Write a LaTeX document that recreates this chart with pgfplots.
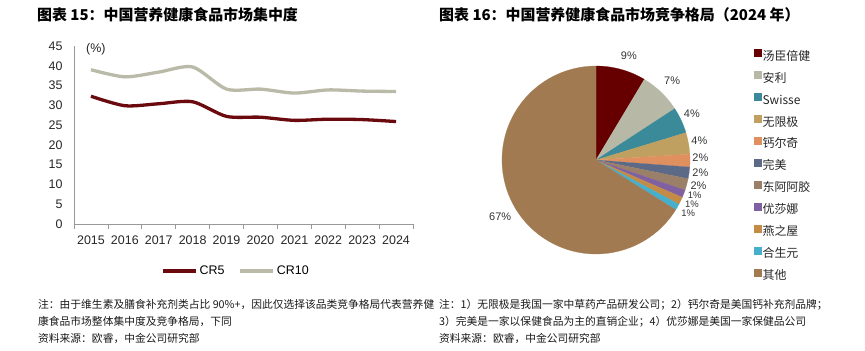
\documentclass[border=0pt]{standalone}
\usepackage{pgfplots}
\pgfplotsset{compat=1.18}
\usepackage{pgfplotstable}
\usepackage{fontspec}
\setmainfont{Liberation Sans}
\newfontfamily\cjk{Noto Sans CJK SC}

\definecolor{cr5}{HTML}{6B0A0E}
\definecolor{cr10}{HTML}{BABAA8}
\definecolor{pc0}{HTML}{660000}
\definecolor{pc1}{HTML}{B8B8A6}
\definecolor{pc2}{HTML}{3B8A9A}
\definecolor{pc3}{HTML}{C0A060}
\definecolor{pc4}{HTML}{E0905F}
\definecolor{pc5}{HTML}{5C6A88}
\definecolor{pc6}{HTML}{9B8069}
\definecolor{pc7}{HTML}{7F60A0}
\definecolor{pc8}{HTML}{C48B47}
\definecolor{pc9}{HTML}{45AFCC}
\definecolor{pc10}{HTML}{A27A52}

\pgfplotstableread{
x cr5 cr10
0 32.3 39.0
1 29.9 37.2
2 30.4 38.4
3 30.9 39.7
4 27.2 34.1
5 27.0 34.1
6 26.2 33.1
7 26.5 33.9
8 26.4 33.6
9 25.9 33.5
}\crdata

\pgfplotstableread{
v
8.6
7.2
4.5
3.7
2.2
2.0
2.0
1.3
1.3
1.1
66.1
}\piedata

\begin{document}
\begin{tikzpicture}
\useasboundingbox (0bp,0bp) rectangle (865bp,-351bp);

% titles
\node[anchor=west, inner sep=0pt, font=\cjk\bfseries\fontsize{15}{18}\selectfont] at (37bp,-15bp) {图表 15：中国营养健康食品市场集中度};
\node[anchor=west, inner sep=0pt, font=\cjk\bfseries\fontsize{15}{18}\selectfont] at (439bp,-15bp) {图表 16：中国营养健康食品市场竞争格局（2024 年）};

% line chart
\begin{axis}[
  at={(74bp,-224bp)}, anchor=south west,
  width=339bp, height=178bp, scale only axis,
  xmin=-0.5, xmax=9.5, ymin=0, ymax=45,
  axis x line*=bottom, axis y line*=left,
  axis line style={draw=black!40, line width=0.8bp, -},
  xtick={0,...,9},
  xticklabels={2015,2016,2017,2018,2019,2020,2021,2022,2023,2024},
  minor xtick={-0.5,0.5,...,9.5},
  tick align=outside,
  major tick length=0pt,
  minor tick length=5bp,
  minor x tick style={draw=black!40, line width=0.8bp},
  ytick={0,5,...,45},
  /pgf/number format/assume math mode=true,
  tick label style={font=\fontsize{12.5}{15}\selectfont, text=black!85},
  yticklabel style={xshift=-8bp},
  xticklabel style={yshift=-8bp},
  clip=false,
  legend columns=2,
  legend style={at={(0.478,-0.264)}, anchor=center, draw=none, fill=none,
    font=\fontsize{12.5}{15}\selectfont,
    /tikz/every even column/.style={column sep=12bp}},
  legend image code/.code={\draw[#1, line width=3.3bp] (0bp,0bp) -- (33bp,0bp);},
]
\addplot[cr5, line width=3.3bp, smooth, tension=0.45] table[x=x, y=cr5] {\crdata};
\addlegendentry{CR5}
\addplot[cr10, line width=3.3bp, smooth, tension=0.45] table[x=x, y=cr10] {\crdata};
\addlegendentry{CR10}
\end{axis}
\node[anchor=west, inner sep=0pt, font=\fontsize{12.5}{15}\selectfont, text=black!85] at (86bp,-49bp) {(\%)};

% pie chart
\begin{axis}[
  at={(483.2bp,-272.8bp)}, anchor=south west,
  x=94bp, y=94bp,
  xmin=-1.2, xmax=1.2, ymin=-1.2, ymax=1.2,
  hide axis, clip=false,
  legend cell align=left,
  legend style={at={(1.198,0.992)}, anchor=north west, draw=none, fill=none,
    inner sep=0pt, row sep=7bp,
    font=\cjk\fontsize{12}{14}\selectfont, text=black!85,
    nodes={inner sep=1.5bp, text height=9bp, text depth=2.5bp}},
  legend image code/.code={\fill[#1] (0bp,0.5bp) rectangle (7bp,7.5bp);},
]
\def\cumval{0}
\pgfplotsforeachungrouped \i in {0,...,10}{%
  \pgfplotstablegetelem{\i}{v}\of\piedata
  \pgfmathsetmacro\angA{90-3.6*\cumval}%
  \pgfmathsetmacro\cumval{\cumval+\pgfplotsretval}%
  \pgfmathsetmacro\angB{90-3.6*\cumval}%
  \edef\temp{\noexpand\fill[pc\i, draw=pc\i, line width=0.2bp] (axis cs:0,0) -- ++(\angA:94bp) arc[start angle=\angA, end angle=\angB, radius=94bp] -- cycle;}%
  \temp
}
\addlegendimage{pc0}\addlegendentry{汤臣倍健}
\addlegendimage{pc1}\addlegendentry{安利}
\addlegendimage{pc2}\addlegendentry{Swisse}
\addlegendimage{pc3}\addlegendentry{无限极}
\addlegendimage{pc4}\addlegendentry{钙尔奇}
\addlegendimage{pc5}\addlegendentry{完美}
\addlegendimage{pc6}\addlegendentry{东阿阿胶}
\addlegendimage{pc7}\addlegendentry{优莎娜}
\addlegendimage{pc8}\addlegendentry{燕之屋}
\addlegendimage{pc9}\addlegendentry{合生元}
\addlegendimage{pc10}\addlegendentry{其他}
\tikzset{plab/.style={font=\fontsize{11}{13}\selectfont, text=black!80, inner sep=0pt}}
\tikzset{slab/.style={font=\fontsize{9.5}{11}\selectfont, text=black!80, inner sep=0pt}}
\node[plab] at (axis cs:0.35,1.11) {9\%};
\node[plab] at (axis cs:0.81,0.84) {7\%};
\node[plab] at (axis cs:1.02,0.49) {4\%};
\node[plab] at (axis cs:1.10,0.21) {4\%};
\node[plab] at (axis cs:1.11,0.02) {2\%};
\node[plab] at (axis cs:1.11,-0.13) {2\%};
\node[plab] at (axis cs:1.09,-0.27) {2\%};
\node[slab] at (axis cs:1.05,-0.375) {1\%};
\node[slab] at (axis cs:1.02,-0.47) {1\%};
\node[slab] at (axis cs:0.98,-0.565) {1\%};
\node[plab] at (axis cs:-1.02,-0.60) {67\%};
\end{axis}

% notes
\tikzset{note/.style={anchor=west, inner sep=0pt, font=\cjk\fontsize{10.8}{13}\selectfont, text=black!90}}
\node[note] at (38bp,-305bp) {注：由于维生素及膳食补充剂类占比 90\%+，因此仅选择该品类竞争格局代表营养健};
\node[note] at (38bp,-321.7bp) {康食品市场整体集中度及竞争格局，下同};
\node[note] at (38bp,-338.3bp) {资料来源：欧睿，中金公司研究部};
\node[note] at (439bp,-305bp) {注：1）无限极是我国一家中草药产品研发公司；2）钙尔奇是美国钙补充剂品牌；};
\node[note] at (439bp,-321.7bp) {3）完美是一家以保健食品为主的直销企业；4）优莎娜是美国一家保健品公司};
\node[note] at (439bp,-338.3bp) {资料来源：欧睿，中金公司研究部};
\end{tikzpicture}
\end{document}
